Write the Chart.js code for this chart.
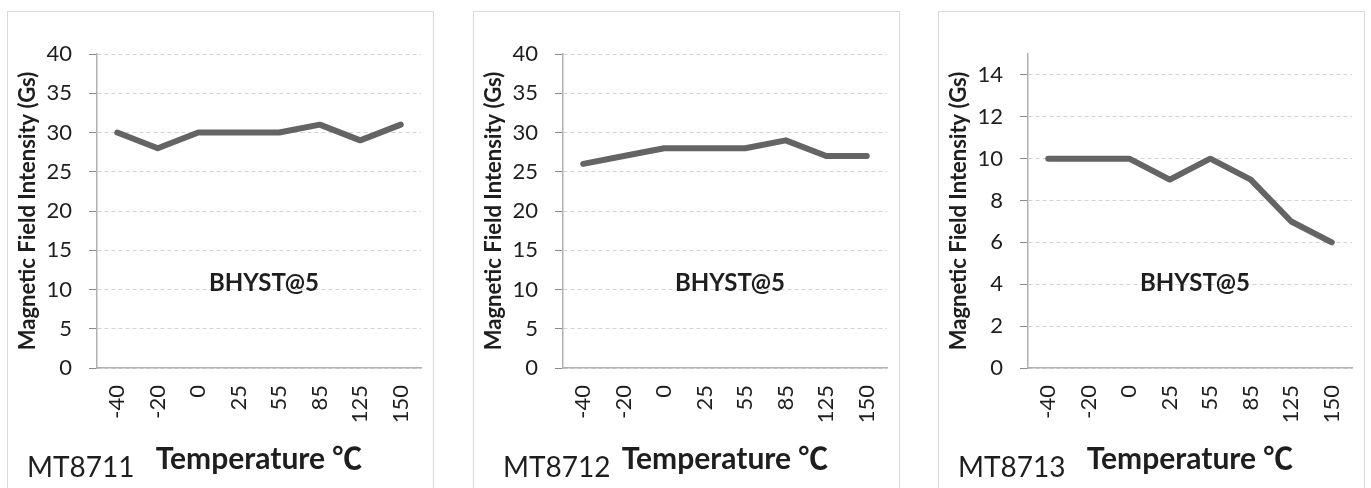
<!DOCTYPE html>
<html>
<head>
<meta charset="utf-8">
<script src="https://cdn.jsdelivr.net/npm/chart.js@4"></script>
<style>
    body { margin: 0; background: #fff; width: 1371px; height: 488px; overflow: hidden; position: relative; }
    .box { position: absolute; top: 11px; width: 427px; height: 490px; border: 1px solid #d9d9d9; box-sizing: border-box; }
    .box canvas { position: absolute; left: 0; top: 0; }
</style>
</head>
<body>
<div class="box" style="left:7px"><canvas id="c1" width="425" height="478"></canvas></div>
<div class="box" style="left:473px"><canvas id="c2" width="425" height="478"></canvas></div>
<div class="box" style="left:938px"><canvas id="c3" width="425" height="478"></canvas></div>
<script>
document.addEventListener('DOMContentLoaded', function() {

    // --- data ---
    const temperatures = ['-40', '-20', '0', '25', '55', '85', '125', '150'];
    const mt8711 = [30, 28, 30, 30, 30, 31, 29, 31];
    const mt8712 = [26, 27, 28, 28, 28, 29, 27, 27];
    const mt8713 = [10, 10, 10, 9, 10, 9, 7, 6];
    const deviceNames = ['MT8711', 'MT8712', 'MT8713'];
    const yMax = [40, 40, 15];
    const yStep = [5, 5, 2];
    const noteText = 'BHYST@5';

    const FONT = "Lato, 'Noto Sans CJK SC', sans-serif";
    const TEXT = '#1e1e1e';

    // draws device name + the BHYST note
    const labelsPlugin = {
        id: 'labels',
        afterDraw(chart, args, opts) {
            const { ctx, chartArea } = chart;
            ctx.save();
            ctx.fillStyle = TEXT;
            ctx.textBaseline = 'alphabetic';
            ctx.textAlign = 'left';
            ctx.font = `28px ${FONT}`;
            ctx.fillText(opts.name, opts.nameX, 465);

            ctx.font = `bold 24px ${FONT}`;
            ctx.textAlign = 'center';
            ctx.textBaseline = 'middle';
            const cx = (chartArea.left + chartArea.right) / 2 + 5;
            const cy = chartArea.top + (chartArea.bottom - chartArea.top) * 0.73;
            ctx.fillText(noteText, cx, cy);
            ctx.restore();
        }
    };

    function makeChart(id, values, idx, nameX) {
        new Chart(document.getElementById(id), {
            type: 'line',
            data: {
                labels: temperatures,
                datasets: [{
                    data: values,
                    borderColor: '#646464',
                    borderWidth: 6,
                    borderCapStyle: 'round',
                    borderJoinStyle: 'round',
                    pointRadius: 0,
                    tension: 0,
                    fill: false
                }]
            },
            options: {
                responsive: false,
                animation: false,
                events: [],
                layout: { padding: { left: 7, top: 42, right: 12, bottom: 13 } },
                plugins: {
                    legend: { display: false },
                    tooltip: { enabled: false },
                    labels: { name: deviceNames[idx], nameX: nameX }
                },
                scales: {
                    x: {
                        offset: true,
                        grid: { display: false, drawTicks: false },
                        border: { color: '#b0b0b0', width: 1.5 },
                        ticks: {
                            color: TEXT,
                            font: { family: FONT, size: 22 },
                            minRotation: 90,
                            maxRotation: 90,
                            padding: 17,
                            autoSkip: false
                        },
                        title: {
                            display: true,
                            text: 'Temperature ℃',
                            color: TEXT,
                            font: { family: FONT, size: 30, weight: 'bold' },
                            padding: 0
                        },
                        afterFit(scale) {
                            scale.height = 109;
                            scale.paddingLeft = 0;
                            scale.paddingRight = 0;
                        }
                    },
                    y: {
                        min: 0,
                        max: yMax[idx],
                        grid: {
                            color: '#d3d3d3',
                            tickColor: '#8c8c8c',
                            tickLength: 8,
                            lineWidth: 1
                        },
                        border: { color: '#b0b0b0', width: 1.5, dash: [4, 3] },
                        ticks: {
                            stepSize: yStep[idx],
                            includeBounds: false,
                            color: TEXT,
                            font: { family: FONT, size: 22 },
                            padding: 17
                        },
                        title: {
                            display: true,
                            text: 'Magnetic Field Intensity (Gs)',
                            color: TEXT,
                            font: { family: FONT, size: 22, weight: 'bold' },
                            padding: 0
                        },
                        afterFit(scale) { scale.width = 82; }
                    }
                }
            },
            plugins: [labelsPlugin]
        });
    }

    makeChart('c1', mt8711, 0, 19);
    makeChart('c2', mt8712, 1, 29);
    makeChart('c3', mt8713, 2, 19);
});
</script>
</body>
</html>
